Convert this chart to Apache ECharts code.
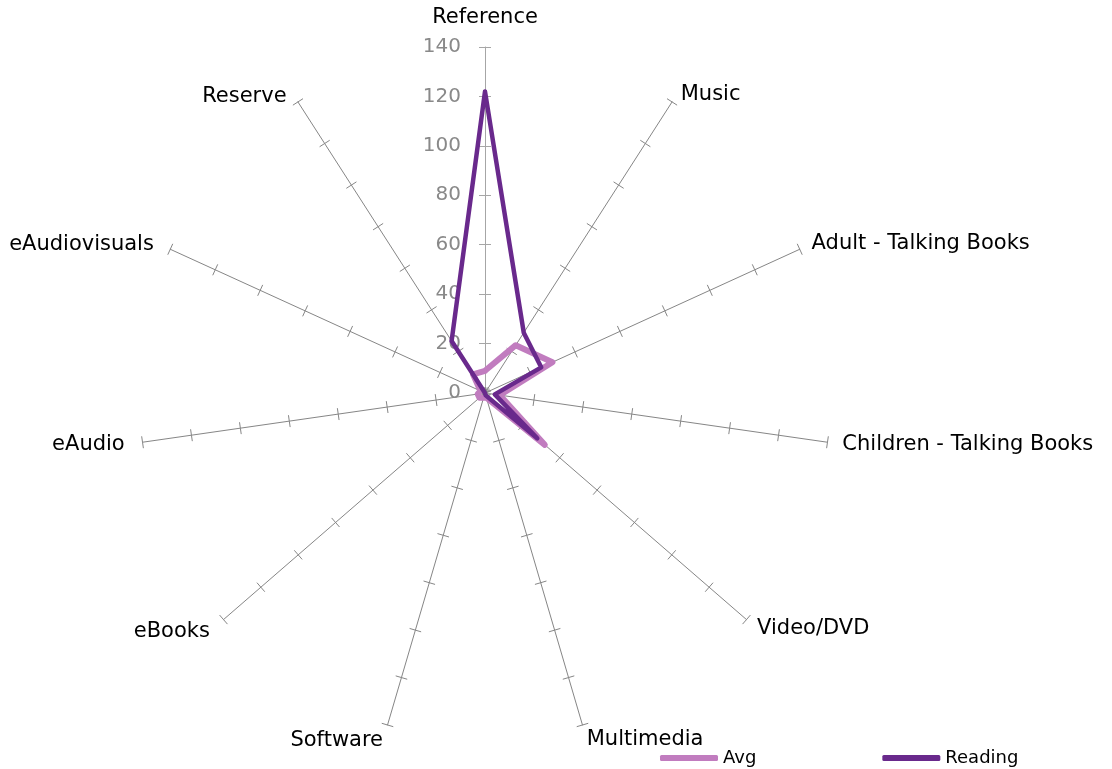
<!DOCTYPE html>
<html>
<head>
<meta charset="utf-8">
<script src="https://cdn.jsdelivr.net/npm/echarts@6/dist/echarts.min.js"></script>
<style>html,body{margin:0;padding:0;background:#fff;}#c{width:1112px;height:769px;}</style>
</head>
<body>
<div id="c"></div>
<script>
// Categories in clockwise order starting at the top
var categories = ['Reference','Music','Adult - Talking Books','Children - Talking Books','Video/DVD','Multimedia','Software','eBooks','eAudio','eAudiovisuals','Reserve'];
var avgValues = [9,23,30,6,32,2,2,3,3,2,9];
var readingValues = [122,29,25,4,28,1,0,0,0,0,25];
var tickLabels = [0,20,40,60,80,100,120,140];
var axisMax = 140;
// distance of each category name from its axis end, and downward nudge style
var nameGaps = [17,16,13,15,14,15,16,18,18,18,21];
var nameNudge = ['', 'a', '', '', '', '', '', '', '', 'c', 'b'];

// ECharts radar lays indicators out counter-clockwise; reorder so they read clockwise
function order(arr){ return [arr[0]].concat(arr.slice(1).reverse()); }

var FONT = 'DejaVu Sans';
var orderedNames = order(categories);
var orderedGaps = order(nameGaps);
var nudgeByName = {};
categories.forEach(function(n, i){ nudgeByName[n] = nameNudge[i]; });

var indicators = orderedNames.map(function(name, i){
  var ind = {name: name, max: axisMax, min: 0, nameGap: orderedGaps[i]};
  if (i === 0) {
    ind.axisLabel = {show: true};
    ind.axisLine = {lineStyle: {color: '#a6a6a6'}};
    ind.axisTick = {lineStyle: {color: '#a6a6a6'}};
  }
  return ind;
});
var indicatorsPlain = orderedNames.map(function(name, i){
  var ind = {name: name, max: axisMax, min: 0};
  if (i === 0) ind.axisTick = {lineStyle: {color: '#a6a6a6'}};
  return ind;
});

var chart = echarts.init(document.getElementById('c'), null, {renderer: 'canvas'});
chart.setOption({
  backgroundColor: '#ffffff',
  animation: false,
  legend: {
    data: ['Avg', 'Reading'],
    left: 660, top: 749, padding: 0,
    itemWidth: 58, itemHeight: 6, itemGap: 126,
    icon: 'roundRect',
    textStyle: {fontFamily: FONT, fontSize: 18, color: '#000'}
  },
  radar: [{
    center: [485, 393],
    radius: 346,
    startAngle: 90,
    splitNumber: tickLabels.length - 1,
    indicator: indicators,
    axisName: {
      color: '#000', fontFamily: FONT, fontSize: 21, lineHeight: 24,
      formatter: function(name){
        var k = nudgeByName[name];
        return k ? '{' + k + '| }\n' + name : name;
      },
      rich: {
        a: {fontSize: 2, lineHeight: 12},
        b: {fontSize: 2, lineHeight: 24},
        c: {fontSize: 2, lineHeight: 6}
      }
    },
    nameGap: 12,
    splitLine: {show: false},
    splitArea: {show: false},
    axisLine: {show: true, lineStyle: {color: '#868686', width: 1}},
    axisTick: {show: true, length: 6, lineStyle: {color: '#868686', width: 1}},
    axisLabel: {show: false, color: '#898989', fontFamily: FONT, fontSize: 20, margin: 24,
      formatter: function(v){ return tickLabels.indexOf(v) >= 0 ? String(v) : ''; }}
  }, {
    center: [485, 393],
    radius: 346,
    startAngle: 90,
    splitNumber: tickLabels.length - 1,
    indicator: indicatorsPlain,
    axisName: {show: false},
    splitLine: {show: false},
    splitArea: {show: false},
    axisLine: {show: false},
    axisTick: {show: true, length: -6, lineStyle: {color: '#868686', width: 1}},
    axisLabel: {show: false}
  }],
  series: [{
    type: 'radar',
    radarIndex: 0,
    symbol: 'none',
    z: 2,
    data: [{
      name: 'Avg',
      value: order(avgValues),
      lineStyle: {color: '#c17cbf', width: 6, join: 'round', cap: 'round'},
      itemStyle: {color: '#c17cbf'}
    }]
  }, {
    type: 'radar',
    radarIndex: 0,
    symbol: 'none',
    z: 3,
    data: [{
      name: 'Reading',
      value: order(readingValues),
      lineStyle: {color: '#69298c', width: 4.5, join: 'round', cap: 'round'},
      itemStyle: {color: '#69298c'}
    }]
  }]
});
</script>
</body>
</html>
